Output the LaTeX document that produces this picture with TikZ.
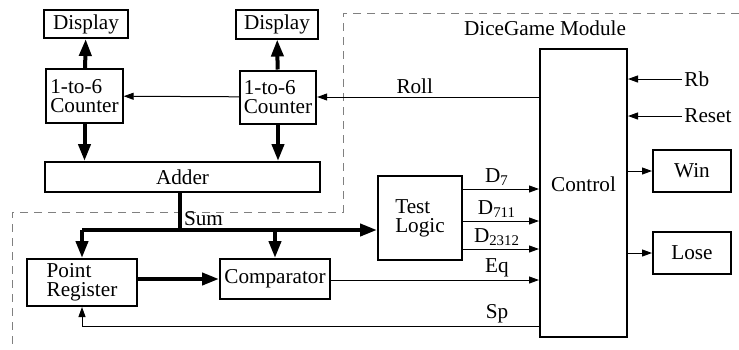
\documentclass[tikz,border=0pt]{standalone}
\usepackage{fontspec}
\setmainfont{Liberation Serif}
\usetikzlibrary{arrows.meta}
\tikzset{every node/.style={font=\fontsize{10.6}{12}\selectfont},
  blk/.style={draw, line width=1pt, inner sep=2pt, align=left},
  sig/.style={line width=0.5pt, -{Triangle[length=5pt, width=3.5pt]}},
  bus/.style={line width=2pt, -{Triangle[length=8.5pt, width=6pt]}},
  lbl/.style={anchor=south, inner sep=1.5pt}}

\begin{document}
\begin{tikzpicture}[x=0.5pt, y=-0.5pt]
    \useasboundingbox (0,0) rectangle (739,349);
    % module boundary
    \draw [gray, line width=0.5pt, dash pattern=on 4pt off 3pt]
        (739,13) -| (343,212) -| (12,349);
    \node at (545,28) {DiceGame Module};

    % dice part
    \node [blk, minimum width=42pt, minimum height=14pt] (disp1) at (86,24) {Display};
    \node [blk, minimum width=41pt, minimum height=14.5pt] (disp2) at (277,24) {Display};
    \node [blk, minimum width=37.5pt, minimum height=27pt] (cnt1) at (84.5,96) {1-to-6\\[-2.5pt]Counter};
    \node [blk, minimum width=38pt, minimum height=26.5pt] (cnt2) at (278,97) {1-to-6\\[-2.5pt]Counter};
    \node [blk, minimum width=137.5pt, minimum height=15pt, align=center] (add) at (182.5,177) {Adder};
    \foreach \c/\d in {cnt1/disp1, cnt2/disp2}{
        \draw [bus] (\c) -- (\d);
        \draw [bus] (\c.south) -- (\c.south |- add.north);
    }
    \draw [sig] (cnt2) -- (cnt1);

    % controller
    \node [blk, minimum width=43.5pt, minimum height=144pt, align=center] (ctrl) at (583.5,193) {};
    \node [anchor=north] at (ctrl.north |- 0,170) {Control};
    \node [blk, minimum width=39pt, minimum height=21pt, align=center] (win) at (692,171) {Win};
    \node [blk, minimum width=39pt, minimum height=21pt, align=center] (lose) at (692,253) {Lose};
    \node [anchor=west, inner sep=1pt] (rb) at (682,79) {Rb};
    \node [anchor=west, inner sep=1pt] (rst) at (682,116) {Reset};
    \foreach \i in {rb, rst}
        \draw [sig] (\i.west) -- (ctrl.east |- \i.west);
    \foreach \o in {win, lose}
        \draw [sig] (ctrl.east |- \o.west) -- (\o.west);
    \draw [sig] (ctrl.west |- cnt2.east) -- (cnt2.east)
        node [lbl, pos=0.56] {Roll};

    % point logic
    \node [blk, minimum width=42pt, minimum height=42pt] (tl) at (420,218) {Test\\[-2.5pt]Logic};
    \node [blk, minimum width=55pt, minimum height=23.5pt] (pr) at (82,282.5) {Point\\[-2.5pt]Register};
    \node [blk, minimum width=55pt, minimum height=20pt, align=center] (cmp) at (275,279) {Comparator};
    \coordinate (sum) at (180,230);
    \draw [line width=2pt] (add.south -| sum) -- (sum)
        node [anchor=south west, inner sep=1pt] {Sum};
    \draw [bus] (pr.north |- sum) -- (tl.west |- sum);
    \draw [bus] (pr.north |- sum) -- (pr.north);
    \draw [bus] (cmp.north |- sum) -- (cmp.north);
    \draw [bus] (pr.east |- cmp.west) -- (cmp.west);

    % status lines into the controller
    \foreach \nm/\txt/\yy in {d7/{D\textsubscript{7}}/189, d711/{D\textsubscript{711}}/221,
        d2312/{D\textsubscript{2312}}/249}{
        \node [lbl] (\nm) at (497,\yy) {\txt};
        \draw [sig] (tl.east |- \nm.south) -- (ctrl.west |- \nm.south);
    }
    \node [lbl] (eq) at (497,280) {Eq};
    \draw [sig] (cmp.east |- eq.south) -- (ctrl.west |- eq.south);
    \node [lbl] (sp) at (497,326) {Sp};
    \draw [sig] (ctrl.west |- sp.south) -| (pr.south);
\end{tikzpicture}
\end{document}
